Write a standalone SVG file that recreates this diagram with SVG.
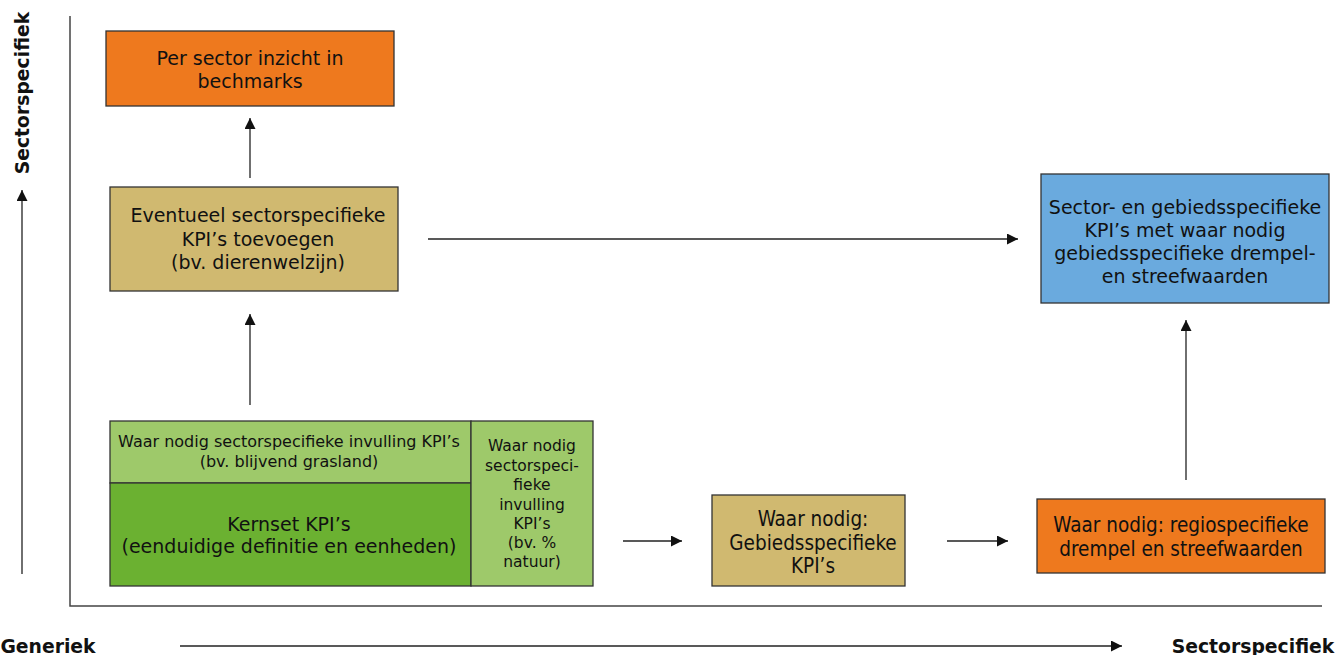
<svg xmlns="http://www.w3.org/2000/svg" width="1336" height="655" viewBox="0 0 1336 655">
<style>
text{font-family:"DejaVu Sans",Verdana,sans-serif;fill:#111;text-anchor:middle;dominant-baseline:central}
.t{font-size:19px}
.s{font-size:16px}
.r{font-size:15.5px}
.c{font-family:"DejaVu Sans Condensed","DejaVu Sans",sans-serif;font-size:20.5px}
.b{font-weight:bold;font-size:18.8px}
.box{stroke:#333;stroke-width:1.3}
.ln{stroke:#222;stroke-width:1.3;fill:none}
.ax{stroke:#444;stroke-width:1.5;fill:none}
</style>
<defs>
<marker id="ah" viewBox="0 0 10 10" refX="10" refY="5" markerWidth="11" markerHeight="11" markerUnits="userSpaceOnUse" orient="auto">
<path d="M0,0 L10,5 L0,10 z" fill="#111"/>
</marker>
</defs>
<g id="axes">
<polyline class="ax" points="70,16 70,606 1322,606"/>
<line class="ln" x1="22" y1="574" x2="22" y2="190" marker-end="url(#ah)"/>
<text class="b" transform="translate(22,93) rotate(-90)">Sectorspecifiek</text>
<line class="ln" x1="180" y1="646" x2="1122" y2="646" marker-end="url(#ah)"/>
<text class="b" x="48" y="646">Generiek</text>
<text class="b" x="1253" y="646">Sectorspecifiek</text>
</g>
<g id="connectors">
<line class="ln" x1="250" y1="178" x2="250" y2="118" marker-end="url(#ah)"/>
<line class="ln" x1="250" y1="405" x2="250" y2="314" marker-end="url(#ah)"/>
<line class="ln" x1="428" y1="239" x2="1018" y2="239" marker-end="url(#ah)"/>
<line class="ln" x1="623" y1="541" x2="682" y2="541" marker-end="url(#ah)"/>
<line class="ln" x1="947" y1="541" x2="1008" y2="541" marker-end="url(#ah)"/>
<line class="ln" x1="1186" y1="480" x2="1186" y2="320" marker-end="url(#ah)"/>
</g>
<g id="benchmarks">
<rect class="box" x="106" y="31" width="288" height="75" fill="#EE791E"/>
<text class="t" x="250" y="58">Per sector inzicht in</text>
<text class="t" x="250" y="81">bechmarks</text>
</g>
<g id="sectorspecifieke-kpis">
<rect class="box" x="110" y="187" width="288" height="104" fill="#D0B970"/>
<text class="t" x="258" y="215">Eventueel sectorspecifieke</text>
<text class="t" x="258" y="239">KPI’s toevoegen</text>
<text class="t" x="258" y="262">(bv. dierenwelzijn)</text>
</g>
<g id="invulling">
<rect class="box" x="110" y="421" width="361" height="62" fill="#9EC96A"/>
<text class="s" x="289" y="441">Waar nodig sectorspecifieke invulling KPI’s</text>
<text class="s" x="289" y="461">(bv. blijvend grasland)</text>
</g>
<g id="kernset">
<rect class="box" x="110" y="483" width="361" height="103" fill="#6BB131"/>
<text class="t" x="289" y="524">Kernset KPI’s</text>
<text class="t" x="289" y="546">(eenduidige definitie en eenheden)</text>
</g>
<g id="invulling-natuur">
<rect class="box" x="471" y="421" width="122" height="165" fill="#9EC96A"/>
<text class="r" x="532" y="446">Waar nodig</text>
<text class="r" x="532" y="466">sectorspeci-</text>
<text class="r" x="532" y="485">fieke</text>
<text class="r" x="532" y="505">invulling</text>
<text class="r" x="532" y="524">KPI’s</text>
<text class="r" x="532" y="543">(bv. %</text>
<text class="r" x="532" y="562">natuur)</text>
</g>
<g id="gebiedsspecifieke-kpis">
<rect class="box" x="712" y="495" width="193" height="91" fill="#D0B970"/>
<text class="c" x="813" y="519">Waar nodig:</text>
<text class="c" x="813" y="543">Gebiedsspecifieke</text>
<text class="c" x="813" y="566">KPI’s</text>
</g>
<g id="regiospecifieke">
<rect class="box" x="1037" y="499" width="288" height="74" fill="#EE791E"/>
<text class="c" x="1181" y="525">Waar nodig: regiospecifieke</text>
<text class="c" x="1181" y="549">drempel en streefwaarden</text>
</g>
<g id="sector-gebied">
<rect class="box" x="1041" y="174" width="288" height="129" fill="#6AAADE"/>
<text class="t" x="1185" y="207">Sector- en gebiedsspecifieke</text>
<text class="t" x="1185" y="230">KPI’s met waar nodig</text>
<text class="t" x="1185" y="253">gebiedsspecifieke drempel-</text>
<text class="t" x="1185" y="276">en streefwaarden</text>
</g>
</svg>
